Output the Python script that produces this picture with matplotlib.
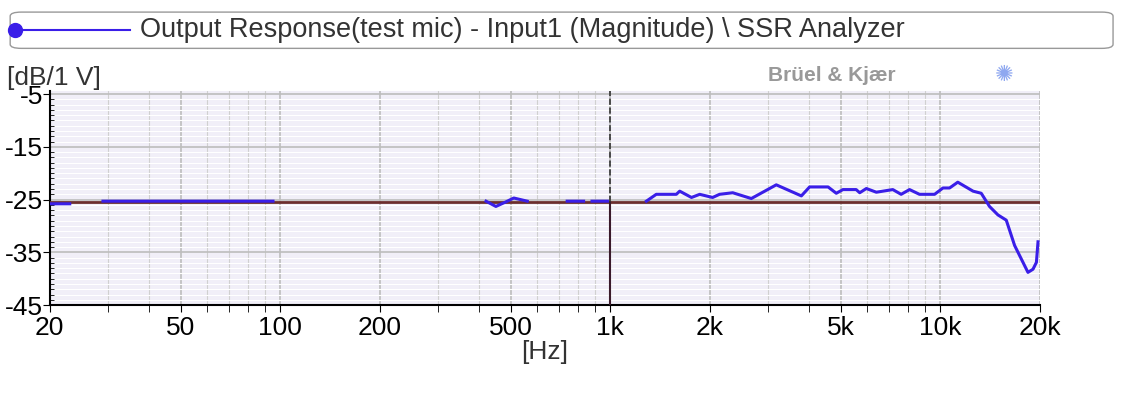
import numpy as np
import matplotlib.pyplot as plt
from matplotlib.patches import FancyBboxPatch
from matplotlib.ticker import FixedLocator, NullFormatter, MultipleLocator

plt.rcParams['font.family'] = ['Liberation Sans', 'DejaVu Sans']

# measured response (NaN = gap in the trace)
freq = [20, 23, np.nan, 29, 95, np.nan, 420, 450, 480, 510, 560, np.nan,
        740, 830, np.nan, 880, 980, np.nan,
        1286, 1378, 1585, 1623, 1762, 1866, 2042, 2143, 2350, 2675, 3184, 3793,
        4018, 4570, 4840, 5070, 5560, 5700, 5970, 6400, 7180, 7610, 8070, 8650,
        9610, 10190, 10670, 11300, 12570, 13310, 14100, 14950, 15850, 16800,
        18440, 19100, 19560, 19780]
level = [-25.8, -25.8, np.nan, -25.3, -25.3, np.nan, -25.3, -26.3, -25.5, -24.7, -25.3, np.nan,
         -25.3, -25.3, np.nan, -25.3, -25.3, np.nan,
         -25.3, -24.0, -24.0, -23.4, -24.6, -24.0, -24.6, -24.0, -23.7, -24.8, -22.2, -24.3,
         -22.6, -22.6, -23.8, -23.1, -23.1, -23.7, -22.9, -23.6, -23.1, -24.0, -23.1, -24.0,
         -24.0, -22.8, -22.8, -21.7, -23.4, -23.8, -26.3, -27.9, -28.9, -33.7,
         -38.8, -38.2, -36.9, -33.0]
ref_level = -25.5
cursor_f = 1000
xticks = [20, 50, 100, 200, 500, 1000, 2000, 5000, 10000, 20000]
xlabels = ['20', '50', '100', '200', '500', '1k', '2k', '5k', '10k', '20k']
yticks = [-5, -15, -25, -35, -45]

fig = plt.figure(figsize=(11.3, 4.03), dpi=100)
ax = fig.add_axes([0.044, 0.243, 0.876, 0.530])
ax.set_facecolor('#f1eff8')
ax.set_xscale('log')
ax.set_xlim(20, 20000)
ax.set_ylim(-45, -4.5)

ax.xaxis.set_major_locator(FixedLocator(xticks))
ax.xaxis.set_minor_locator(FixedLocator([m * 10 ** e for e in range(1, 5) for m in range(2, 10)
                                         if 20 <= m * 10 ** e <= 20000]))
ax.xaxis.set_minor_formatter(NullFormatter())
ax.set_xticklabels(xlabels, fontsize=19)
ax.set_yticks(yticks)
ax.set_yticklabels([str(t) for t in yticks], fontsize=19)
ax.yaxis.set_minor_locator(MultipleLocator(1))
ax.tick_params(axis='y', which='major', pad=0, direction='out', length=5)
ax.tick_params(axis='y', which='minor', direction='in', length=3)
ax.tick_params(axis='x', which='both', direction='out', length=5, pad=3)

ax.grid(True, which='major', color='#bdbdbd', lw=1.2)
ax.grid(True, which='minor', axis='y', color='#ffffff', lw=0.8)
ax.grid(True, which='minor', axis='x', color='#d0d0d0', lw=0.8)
for s in ['top', 'right']:
    ax.spines[s].set_visible(False)
for s in ['left', 'bottom']:
    ax.spines[s].set_linewidth(1.5)

ax.axhline(ref_level, color='#6b2d2d', lw=2, zorder=3)
ax.plot([cursor_f, cursor_f], [-45, ref_level], color='#3a1a2a', lw=1.5, zorder=3)
ax.plot([cursor_f, cursor_f], [ref_level, -4.5], color='#333333', lw=1.2, ls='--', zorder=3)
ax.plot(freq, level, color='#3a1ee8', lw=2.2, zorder=4)

ax.set_xlabel('[Hz]', fontsize=19, labelpad=0, color='#333333')
fig.text(0.006, 0.79, '[dB/1 V]', fontsize=19, color='#333333')
fig.text(0.68, 0.80, 'Brüel & Kjær', fontsize=15, color='#999999', fontweight='bold')
fig.text(0.88, 0.80, '✺', fontsize=16, color='#8fa8f0', family='DejaVu Sans')

# legend box
box = FancyBboxPatch((0.009, 0.88), 0.976, 0.09, boxstyle='round,pad=0,rounding_size=0.01',
                     transform=fig.transFigure, facecolor='white', edgecolor='#999999', lw=1)
fig.patches.append(box)
fig.lines.append(plt.Line2D([0.013, 0.115], [0.925, 0.925], transform=fig.transFigure,
                            color='#3a1ee8', lw=1.5, marker='o', markevery=[0], markersize=10))
fig.text(0.124, 0.925, 'Output Response(test mic) - Input1 (Magnitude) \\ SSR Analyzer',
         fontsize=19.5, va='center', color='#333333')

fig.savefig('out.png', dpi=100)
